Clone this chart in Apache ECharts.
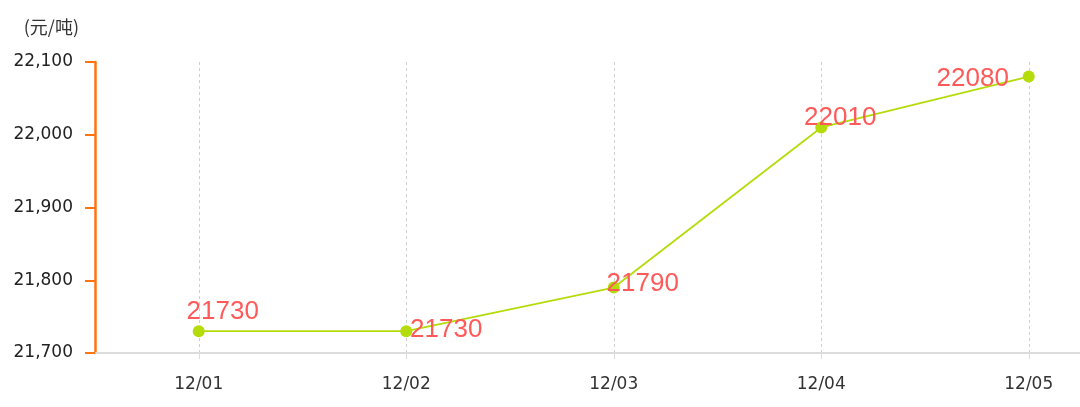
<!DOCTYPE html>
<html>
<head>
<meta charset="utf-8">
<script src="https://cdn.jsdelivr.net/npm/echarts@6/dist/echarts.min.js"></script>
<style>
html,body{margin:0;padding:0;background:#fff;}
#chart{width:1080px;height:407px;}
</style>
</head>
<body>
<div id="chart"></div>
<script>
// ---- data ----
var categories = ['12/01', '12/02', '12/03', '12/04', '12/05'];
var prices = [21730, 21730, 21790, 22010, 22080];
var yTicks = { min: 21700, max: 22100, interval: 100 };
var unitName = '(元/吨)';

// ---- label layout (offsets from each point, px) ----
var labelOffsets = [[24, -19], [40, -1], [29, -4], [19, -10], [-56, 2]];

var seriesData = prices.map(function (v, i) {
  return { value: v, label: { offset: labelOffsets[i] } };
});

var chart = echarts.init(document.getElementById('chart'));
chart.setOption({
  animation: false,
  backgroundColor: '#ffffff',
  grid: { left: 95, right: -52.5, top: 62, bottom: 54, containLabel: false, outerBoundsMode: 'none' },
  xAxis: {
    type: 'category',
    data: categories,
    boundaryGap: true,
    axisLine: { show: true, lineStyle: { color: '#dcdcdc', width: 2 } },
    axisTick: { show: true, alignWithLabel: true, length: 6, lineStyle: { color: '#dcdcdc' } },
    axisLabel: { color: '#333', fontSize: 17, margin: 23, fontFamily: 'DejaVu Sans' },
    splitLine: { show: true, alignWithLabel: true, lineStyle: { color: '#cfcfcf', type: [3, 3], width: 1 } }
  },
  yAxis: {
    type: 'value',
    min: yTicks.min,
    max: yTicks.max,
    interval: yTicks.interval,
    name: unitName,
    nameLocation: 'end',
    nameGap: 26,
    nameTextStyle: { color: '#333', fontSize: 18, fontFamily: 'Noto Sans CJK SC', align: 'right', padding: [0, 16, 0, 0] },
    axisLine: { show: true, lineStyle: { color: '#ff7412', width: 2.5 } },
    axisTick: { show: true, length: 10, lineStyle: { color: '#ff7412', width: 2 } },
    axisLabel: { color: '#222', fontSize: 17, margin: 22, fontFamily: 'DejaVu Sans' },
    splitLine: { show: false }
  },
  series: [{
    type: 'line',
    data: seriesData,
    symbol: 'circle',
    symbolSize: 12,
    lineStyle: { color: '#b4dc0a', width: 1.8 },
    itemStyle: { color: '#b4dc0a' },
    label: {
      show: true,
      position: 'inside',
      color: '#ff5a5a',
      fontSize: 26,
      fontFamily: 'Liberation Sans, Arial, Helvetica, sans-serif'
    }
  }]
});
</script>
</body>
</html>
